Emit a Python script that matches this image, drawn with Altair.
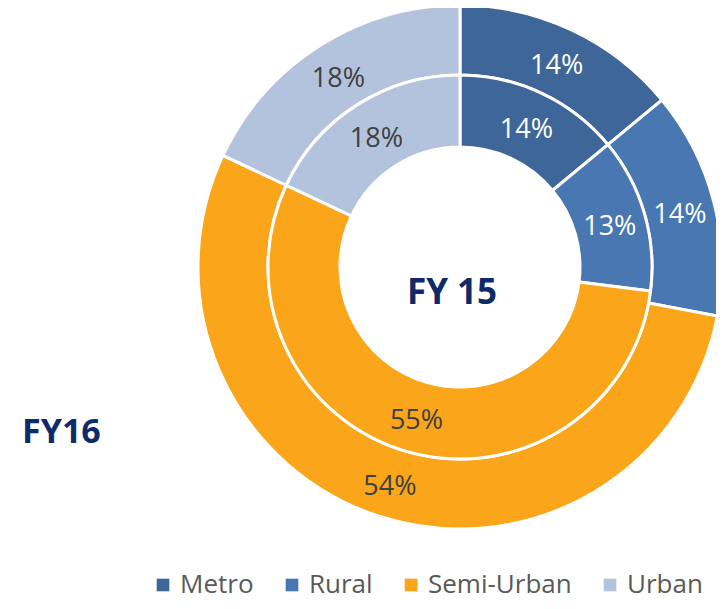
import altair as alt
import pandas as pd

categories = ["Metro", "Rural", "Semi-Urban", "Urban"]
fy15 = [14, 13, 55, 18]
fy16 = [14, 14, 54, 18]
colors = ["#3E6698", "#4877B1", "#FBA51B", "#B4C3DD"]

df15 = pd.DataFrame({"cat": categories, "val": fy15, "lbl": [f"{v}%" for v in fy15]})
df16 = pd.DataFrame({"cat": categories, "val": fy16, "lbl": [f"{v}%" for v in fy16]})

CX, CY = 452, 259
R0, R1, R2 = 120, 192, 262
FONT = "Open Sans"

color = alt.Color(
    "cat:N",
    scale=alt.Scale(domain=categories, range=colors),
    legend=alt.Legend(
        title=None, orient="none", legendX=142, legendY=564, direction="horizontal",
        symbolType="square", symbolSize=160, symbolStrokeWidth=0,
        labelFontSize=26, labelColor="#595959", labelFont=FONT,
        columnPadding=25, labelOffset=4, padding=0,
    ),
)

label_color = alt.condition(
    alt.FieldOneOfPredicate(field="cat", oneOf=["Metro", "Rural"]),
    alt.value("white"), alt.value("#404040"),
)


def ring(df, r_in, r_out):
    base = alt.Chart(df).encode(
        theta=alt.Theta("val:Q", stack=True),
        order=alt.Order("cat:N", sort="ascending"),
        x=alt.value(CX), y=alt.value(CY),
    )
    arc = base.mark_arc(radius=r_out, radius2=r_in, stroke="white", strokeWidth=3).encode(color=color)
    txt = base.mark_text(radius=(r_in + r_out) / 2, fontSize=27, font=FONT, dy=4).encode(
        text="lbl:N", color=label_color, detail="cat:N"
    )
    return arc + txt


title_df = pd.DataFrame({"t": ["FY 15"]})
fy15_txt = alt.Chart(title_df).mark_text(
    fontSize=35, fontWeight="bold", font=FONT, color="#0F2A69", align="center", baseline="alphabetic"
).encode(text="t:N", x=alt.value(444), y=alt.value(296))

fy16_df = pd.DataFrame({"t": ["FY16"]})
fy16_txt = alt.Chart(fy16_df).mark_text(
    fontSize=34, fontWeight="bold", font=FONT, color="#0F2A69", align="left", baseline="alphabetic"
).encode(text="t:N", x=alt.value(14), y=alt.value(435))

chart = alt.layer(ring(df16, R1, R2), ring(df15, R0, R1), fy15_txt, fy16_txt).properties(
    width=708, height=593, padding=0, autosize="none"
).configure_view(stroke=None)

chart.save("out.html", embed_options={"renderer": "svg", "actions": False})
